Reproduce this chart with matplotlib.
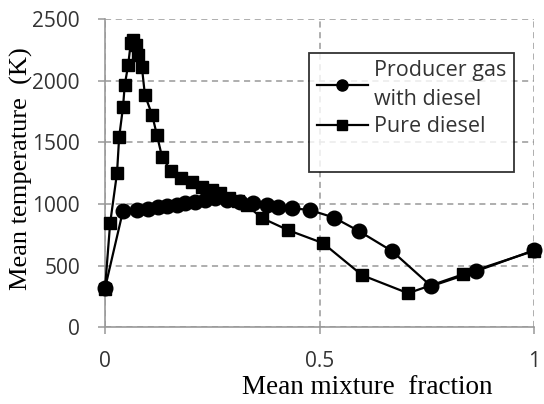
import matplotlib
matplotlib.use("Agg")
import matplotlib.pyplot as plt
from matplotlib.lines import Line2D

# producer gas with diesel (circles)
pg_x = [0.0, 0.042, 0.075, 0.10, 0.124, 0.145, 0.168, 0.187, 0.21, 0.233, 0.256,
        0.284, 0.315, 0.345, 0.378, 0.403, 0.436, 0.478, 0.533, 0.592, 0.669,
        0.76, 0.865, 1.0]
pg_y = [316, 945, 950, 958, 974, 982, 990, 1006, 1015, 1030, 1047,
        1030, 1015, 1006, 990, 974, 966, 950, 890, 779, 617,
        333, 455, 625]

# pure diesel (squares)
pd_x = [0.0, 0.012, 0.028, 0.033, 0.042, 0.046, 0.054, 0.06, 0.065, 0.072, 0.077,
        0.086, 0.093, 0.11, 0.121, 0.133, 0.154, 0.177, 0.203, 0.226, 0.249,
        0.268, 0.29, 0.31, 0.33, 0.366, 0.427, 0.508, 0.599, 0.706, 0.835, 1.0]
pd_y = [310, 844, 1250, 1542, 1786, 1964, 2127, 2305, 2330, 2289, 2208,
        2110, 1883, 1720, 1558, 1380, 1266, 1209, 1177, 1136, 1112,
        1088, 1050, 1020, 990, 885, 787, 682, 422, 276, 430, 620]

xticks = [0, 0.5, 1]
xticklabels = ["0", "0.5", "1"]
yticks = [0, 500, 1000, 1500, 2000, 2500]

fig = plt.figure(figsize=(5.44, 4.04), dpi=100)
ax = fig.add_axes([0.193, 0.19, 0.789, 0.763])

ax.plot(pg_x, pg_y, color="black", lw=1.6, marker="o", ms=10.5, clip_on=False, zorder=3)
ax.plot(pd_x, pd_y, color="black", lw=1.6, marker="s", ms=8.5, clip_on=False, zorder=3)

ax.set_xlim(0, 1)
ax.set_ylim(0, 2500)
ax.set_xticks(xticks)
ax.set_xticklabels(xticklabels)
ax.set_yticks(yticks)

ax.grid(True, color="#999999", ls=(0, (4, 3)), lw=1.1)
for s in ["top", "right"]:
    ax.spines[s].set_visible(False)
for s in ["left", "bottom"]:
    ax.spines[s].set_color("#999999")
    ax.spines[s].set_linewidth(1.2)
ax.tick_params(axis="both", colors="#999999", length=5, width=1.1,
               labelcolor="#333333", labelsize=15)
ax.tick_params(axis="x", pad=12)
ax.tick_params(axis="y", pad=13)
for lab in ax.get_xticklabels() + ax.get_yticklabels():
    lab.set_family("Open Sans")

ax.set_xlabel("Mean mixture  fraction", family="Liberation Serif", fontsize=19.5)
ax.xaxis.set_label_coords(0.61, -0.155)
ax.set_ylabel("Mean temperature  (K)", family="Liberation Serif", fontsize=19)
ax.yaxis.set_label_coords(-0.168, 0.513)

# legend with an empty row at the bottom, as in the original
handles = [Line2D([], [], color="black", lw=1.6, marker="o", ms=8),
           Line2D([], [], color="black", lw=1.6, marker="s", ms=7),
           Line2D([], [], color="none")]
labels = ["Producer gas\nwith diesel", "Pure diesel", " "]
leg = ax.legend(handles, labels, loc="upper left", bbox_to_anchor=(0.4755, 0.89),
                frameon=True, fancybox=False, edgecolor="black", borderpad=0.35,
                handlelength=2.4, handletextpad=0.25, labelspacing=0.3,
                borderaxespad=0, prop={"family": "Open Sans", "size": 15.5})
leg.get_frame().set_linewidth(1.3)
for t in leg.get_texts():
    t.set_color("#333333")
    t.set_linespacing(1.45)

fig.savefig("out.png", dpi=100)
